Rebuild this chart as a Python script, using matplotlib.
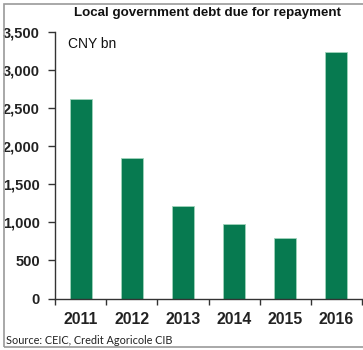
import matplotlib
matplotlib.use("Agg")
import matplotlib.pyplot as plt
from matplotlib.patches import Rectangle
import numpy as np

years = ["2011", "2012", "2013", "2014", "2015", "2016"]
debt = [2620, 1840, 1215, 980, 790, 3235]
yticks = [0, 500, 1000, 1500, 2000, 2500, 3000, 3500]
ytick_labels = ["0", "500", "1,000", "1,500", "2,000", "2,500", "3,000", "3,500"]

W, H = 363, 350
fig = plt.figure(figsize=(W / 100, H / 100), dpi=100)
fig.patch.set_facecolor("white")

ax = fig.add_axes([55 / W, 1 - 298.5 / H, (362 - 55) / W, (298.5 - 32) / H])
x = np.arange(len(years))
ax.bar(x, debt, width=0.43, color="#077A50", edgecolor="#9fd3bb", linewidth=0.6)

ax.set_xlim(-0.5, len(years) - 0.5)
ax.set_ylim(0, 3500)
ax.set_yticks(yticks)
ax.set_yticklabels(ytick_labels, fontfamily="Liberation Sans", fontweight="bold",
                   fontsize=10.5, color="#222222")
ax.set_xticks(x)
ax.set_xticklabels(years, fontfamily="Liberation Sans", fontweight="bold",
                   fontsize=11.3, color="#222222")
ax.set_xticks(np.arange(-0.5, len(years)), minor=True)
ax.tick_params(axis="x", which="major", length=0, pad=10)
ax.tick_params(axis="x", which="minor", length=4, width=1, color="#333333", direction="out")
ax.tick_params(axis="y", length=5, width=1, color="#333333", direction="out", pad=6)

for s in ["top", "right"]:
    ax.spines[s].set_visible(False)
for s in ["left", "bottom"]:
    ax.spines[s].set_color("#333333")
    ax.spines[s].set_linewidth(1)

fig.text(208 / W, 1 - 13 / H, "Local government debt due for repayment",
         ha="center", va="center", fontfamily="Liberation Sans", fontweight="bold",
         fontsize=9.6, color="#111111")
fig.text(68 / W, 1 - 44 / H, "CNY bn", ha="left", va="center",
         fontfamily="Liberation Sans", fontsize=10, color="#111111")
fig.text(6 / W, 1 - 340 / H, "Source: CEIC, Credit Agoricole CIB", ha="left", va="center",
         fontfamily="Lato", fontsize=7.8, color="#222222")

fig.patches.append(Rectangle((4 / W, 1 - 347 / H), (W + 5 - 4) / W, (347 - 4) / H,
                             transform=fig.transFigure, fill=False,
                             edgecolor="#9a9a9a", linewidth=1.2))

fig.savefig("out.png", dpi=100)
